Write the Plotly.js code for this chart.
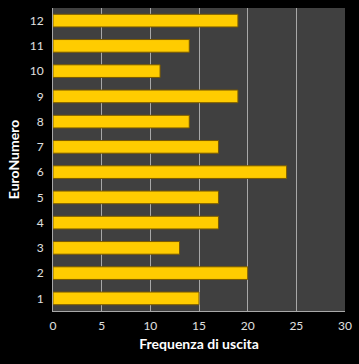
<!DOCTYPE html>
<html><head><meta charset="utf-8">
<script src="https://cdn.plot.ly/plotly-3.0.1.min.js"></script>
<style>html,body{margin:0;padding:0;background:#000;}#c{width:359px;height:364px;}</style>
</head><body><div id="c"></div>
<script>
const categories = ['1','2','3','4','5','6','7','8','9','10','11','12'];
const frequenze = [15, 20, 13, 17, 17, 24, 17, 14, 19, 11, 14, 19];
const xTicks = [0, 5, 10, 15, 20, 25, 30];

const trace = {
  type: 'bar', orientation: 'h',
  y: categories, x: frequenze,
  width: 0.5,
  marker: {color: '#FFCC00', line: {color: '#7a5a00', width: 1}},
  hoverinfo: 'none'
};
const layout = {
  width: 359, height: 364,
  paper_bgcolor: '#000', plot_bgcolor: '#404040',
  margin: {l: 53, r: 14, t: 8, b: 53},
  font: {family: 'Lato, "Open Sans", sans-serif', color: '#e0e0e0', size: 11},
  showlegend: false,
  xaxis: {
    range: [0, 30], tickvals: xTicks, ticktext: xTicks.map(String),
    showgrid: true, gridcolor: '#a8a8a8', gridwidth: 1,
    zeroline: false, showline: true, linecolor: '#a8a8a8', linewidth: 1,
    ticks: '', ticklen: 0, ticklabelstandoff: 4, tickfont: {size: 12, color: '#e0e0e0'},
    title: {text: 'Frequenza di uscita', font: {size: 14, color: '#ffffff', weight: 'bold'}, standoff: 6}
  },
  yaxis: {
    type: 'category', categoryorder: 'array', categoryarray: categories,
    showgrid: false, zeroline: false, showline: true, linecolor: '#a8a8a8', linewidth: 1,
    ticks: '', ticklabelstandoff: 6, tickfont: {size: 12, color: '#e0e0e0'},
    title: {text: 'EuroNumero', font: {size: 14, color: '#ffffff', weight: 'bold'}, standoff: 6}
  }
};
Plotly.newPlot('c', [trace], layout, {staticPlot: true, displayModeBar: false});
</script></body></html>
